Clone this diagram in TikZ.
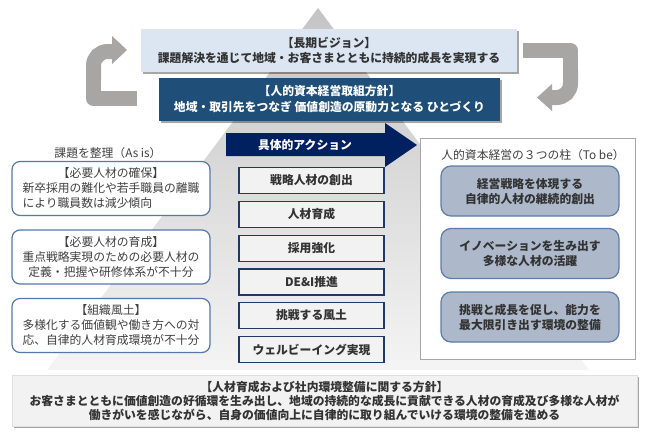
\documentclass[tikz,border=0pt]{standalone}
\usepackage{fontspec}
\setmainfont{Noto Sans CJK JP}
\usetikzlibrary{shadows}
\definecolor{pyrtop}{HTML}{C4C4C4}
\definecolor{pyrbot}{HTML}{F4F4F4}
\definecolor{arrgray}{HTML}{A8A5A5}
\definecolor{visionfill}{HTML}{DCE6F2}
\definecolor{policyfill}{HTML}{1F4E79}
\definecolor{navy}{HTML}{002060}
\definecolor{actborder}{HTML}{1F3864}
\definecolor{boxgray}{HTML}{F2F2F2}
\definecolor{asisborder}{HTML}{5479A8}
\definecolor{tobefill}{HTML}{ADB9CA}
\definecolor{tobeborder}{HTML}{5B7DA8}
\definecolor{txtdark}{HTML}{333333}
\definecolor{txtgray}{HTML}{404040}
\definecolor{framegray}{HTML}{A6A6A6}
\begin{document}
\begin{tikzpicture}[x=1pt,y=-1pt,
  base/.style={inner sep=0pt, align=center},
  regtext/.style={font=\fontsize{11.8}{15}\selectfont, text=txtgray},
  boldtext/.style={font=\fontsize{11.8}{15}\selectfont\bfseries, text=txtdark},
  shadowed/.style={drop shadow={shadow xshift=1.5pt, shadow yshift=-2pt, opacity=0.35, fill=black}},
  visionbox/.style={base, boldtext, shadowed, fill=visionfill, minimum width=376pt, minimum height=43pt},
  policybox/.style={base, boldtext, shadowed, fill=policyfill, text=white, minimum width=341pt, minimum height=43pt, font=\fontsize{11.8}{16}\selectfont\bfseries},
  asisbox/.style={base, regtext, draw=asisborder, line width=1.2pt, fill=white, rounded corners=8pt, minimum width=198pt, minimum height=54pt},
  actbox/.style={base, boldtext, draw=actborder, line width=1.3pt, fill=boxgray, minimum width=145pt, minimum height=26pt},
  tobeframe/.style={draw=framegray, line width=0.8pt, fill=white, minimum width=215pt, minimum height=221pt, inner sep=0pt},
  tobebox/.style={base, boldtext, draw=tobeborder, line width=1.2pt, fill=tobefill, rounded corners=10pt, minimum width=178pt, minimum height=50pt},
  bottombox/.style={base, boldtext, shadowed, draw=gray!25, fill=boxgray, minimum width=625pt, minimum height=51pt, font=\fontsize{11.8}{14}\selectfont\bfseries},
  cyclearrow/.style={draw=arrgray, line width=15pt},
]
\useasboundingbox (0,0) rectangle (648,439);

% pyramid
\shade[top color=pyrtop, bottom color=pyrbot] (318,8) -- (589,370) -- (47,370) -- cycle;

% cycle arrows
\draw[cyclearrow, line join=round] (137,98.5) -- (93.5,98.5) -- (93.5,75);
\draw[cyclearrow, rounded corners=14pt] (93.5,80) -- (93.5,51.5) -- (114,51.5);
\fill[arrgray] (112,36) -- (127,50) -- (112,64) -- cycle;

\draw[cyclearrow, line join=round] (523,50.5) -- (570.5,50.5) -- (570.5,75);
\draw[cyclearrow, rounded corners=14pt] (570.5,70) -- (570.5,97.5) -- (550,97.5);
\fill[arrgray] (552,84) -- (537,97.5) -- (552,111) -- cycle;

% top boxes
\node[visionbox] (vision) at (329,50.5) {【長期ビジョン】\\課題解決を通じて地域・お客さまとともに持続的成長を実現する};
\node[policybox] (policy) at (329.5,99.5) {【人的資本経営取組方針】\\地域・取引先をつなぎ 価値創造の原動力となる ひとづくり};

% As is column
\node[base, regtext] (asistitle) at (108,153) {課題を整理（As is）};
\node[asisbox] (asis1) at (111,188.5) {【必要人材の確保】\\新卒採用の難化や若手職員の離職\\\makebox[177pt][l]{により職員数は減少傾向}};
\node[asisbox] (asis2) at (111,257) {【必要人材の育成】\\重点戦略実現のための必要人材の\\定義・把握や研修体系が不十分};
\node[asisbox] (asis3) at (111,325.5) {【組織風土】\\多様化する価値観や働き方への対\\応、自律的人材育成環境が不十分};

% action header arrow
\fill[navy] (226,133) -- (385,133) -- (385,123) -- (417,145) -- (385,167) -- (385,156) -- (226,156) -- cycle;
\node[base, boldtext, text=white] (acthead) at (305,145) {具体的アクション};

% action boxes
\node[actbox] (act1) at (311.5,180.5) {戦略人材の創出};
\node[actbox] (act2) at (311.5,214.5) {人材育成};
\node[actbox] (act3) at (311.5,248.5) {採用強化};
\node[actbox] (act4) at (311.5,282) {DE\&I推進};
\node[actbox] (act5) at (311.5,315.5) {挑戦する風土};
\node[actbox] (act6) at (311.5,349.5) {ウェルビーイング実現};

% To be column
\node[tobeframe] (tobe) at (527.5,248.5) {};
\node[base, regtext] (tobetitle) at (533,155) {人的資本経営の３つの柱（To be）};
\node[tobebox] (tobe1) at (530,191) {経営戦略を体現する\\自律的人材の継続的創出};
\node[tobebox] (tobe2) at (530,253.5) {イノベーションを生み出す\\多様な人材の活躍};
\node[tobebox] (tobe3) at (530,317) {挑戦と成長を促し、能力を\\最大限引き出す環境の整備};

% bottom policy
\node[bottombox] (bottom) at (324.5,400.5) {【人材育成および社内環境整備に関する方針】\\お客さまとともに価値創造の好循環を生み出し、地域の持続的な成長に貢献できる人材の育成及び多様な人材が\\働きがいを感じながら、自身の価値向上に自律的に取り組んでいける環境の整備を進める};
\end{tikzpicture}
\end{document}
